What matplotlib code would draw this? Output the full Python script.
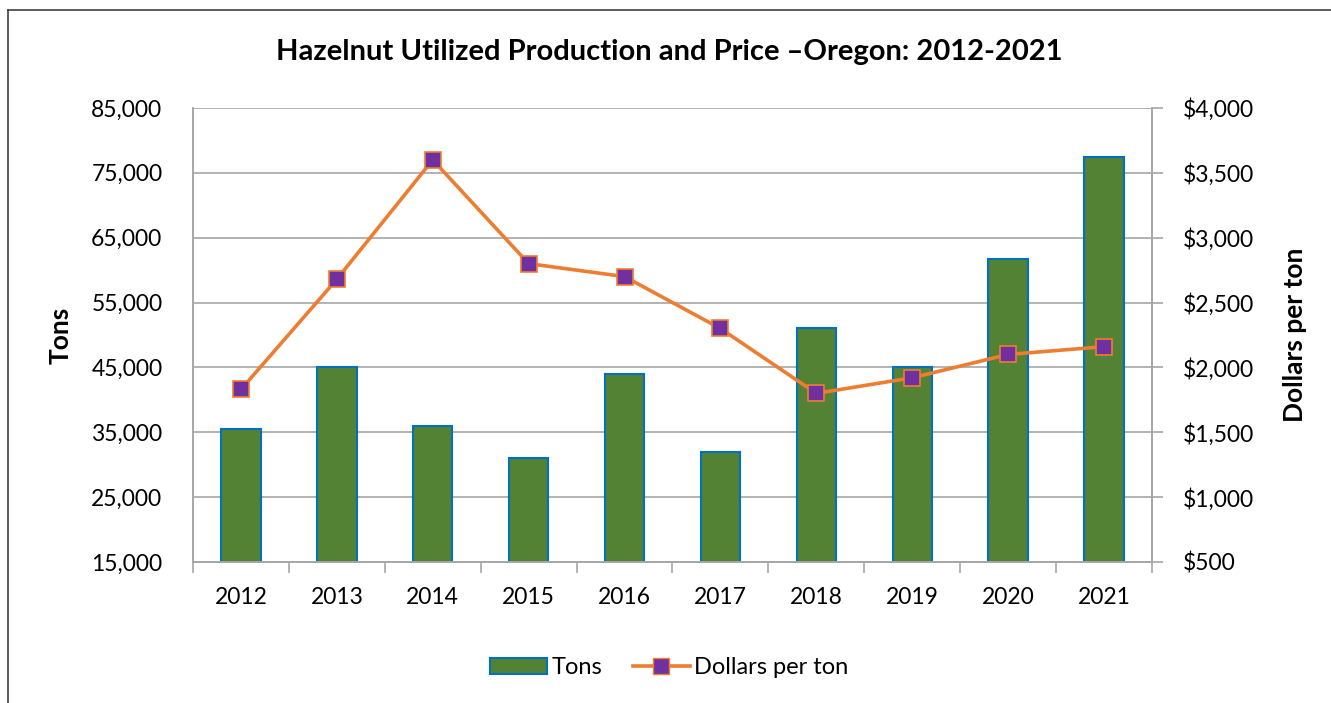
import numpy as np
import matplotlib.pyplot as plt
from matplotlib.lines import Line2D
from matplotlib.patches import Patch
from matplotlib.ticker import FuncFormatter

plt.rcParams['font.family'] = ['Lato', 'DejaVu Sans']

# Data
years = ['2012', '2013', '2014', '2015', '2016', '2017', '2018', '2019', '2020', '2021']
tons = [35500, 45000, 36000, 31000, 44000, 32000, 51000, 45000, 61700, 77400]
price = [1830, 2680, 3600, 2800, 2700, 2300, 1800, 1920, 2100, 2160]

left_ticks = [15000, 25000, 35000, 45000, 55000, 65000, 75000, 85000]
right_ticks = [500, 1000, 1500, 2000, 2500, 3000, 3500, 4000]

bar_green = '#548235'
bar_edge = '#0070C0'
line_orange = '#ED7D31'
marker_purple = '#7030A0'
grid_gray = '#A6A6A6'

fig = plt.figure(figsize=(13.31, 7.03), dpi=100)
ax = fig.add_axes([0.145, 0.2006, 0.7205, 0.6458])
ax2 = ax.twinx()

x = np.arange(len(years))
ax.bar(x, tons, width=0.41, color=bar_green, edgecolor=bar_edge, linewidth=1.5, zorder=2)
ax.set_ylim(15000, 85000)
ax.set_xlim(-0.5, len(years) - 0.5)
ax.set_yticks(left_ticks)
ax.yaxis.set_major_formatter(FuncFormatter(lambda v, p: f'{int(v):,}'))
ax.grid(axis='y', color=grid_gray, linewidth=1.2, zorder=0)
ax.set_axisbelow(True)

ax.set_xticks(x)
ax.set_xticklabels(years)
ax.set_xticks(np.arange(len(years) + 1) - 0.5, minor=True)
ax.tick_params(axis='x', which='major', length=0, pad=18, labelsize=16.5)
ax.tick_params(axis='x', which='minor', length=8, color=grid_gray, width=1.2)

ax2.plot(x, price, color=line_orange, linewidth=2.6, marker='s', markersize=11.5,
         markerfacecolor=marker_purple, markeredgecolor=line_orange, markeredgewidth=1.2,
         zorder=3)
ax2.set_ylim(500, 4000)
ax2.set_yticks(right_ticks)
ax2.yaxis.set_major_formatter(FuncFormatter(lambda v, p: f'${int(v):,}'))
ax2.tick_params(axis='y', length=8, color=grid_gray, width=1.2, pad=14, labelsize=16.5)

for a in (ax, ax2):
    a.spines['top'].set_visible(False)
    for side in ('left', 'right', 'bottom'):
        a.spines[side].set_color(grid_gray)
        a.spines[side].set_linewidth(1.2)

ax.tick_params(axis='y', which='major', length=0, pad=22, labelsize=16.5)

ax.set_ylabel('Tons', fontsize=19, fontweight='bold')
ax.yaxis.set_label_coords(-0.126, 0.5)
ax2.set_ylabel('Dollars per ton', fontsize=19, fontweight='bold')
ax2.yaxis.set_label_coords(1.137, 0.5)

fig.text(0.503, 0.926, 'Hazelnut Utilized Production and Price \u2013Oregon: 2012-2021',
         ha='center', va='center', fontsize=21, fontweight='bold')

handles = [
    Patch(facecolor=bar_green, edgecolor=bar_edge, linewidth=1.5, label='Tons'),
    Line2D([0], [0], color=line_orange, linewidth=2.6, marker='s', markersize=11.5,
           markerfacecolor=marker_purple, markeredgecolor=line_orange, label='Dollars per ton'),
]
fig.legend(handles=handles, loc='center', bbox_to_anchor=(0.503, 0.05), ncol=2,
           frameon=False, fontsize=17, handlelength=2.4, columnspacing=1.3, handletextpad=0.2)

# chart border (top and left edges visible in the crop)
fig.add_artist(Line2D([0.006, 0.006], [0, 0.986], transform=fig.transFigure, color='#404040', linewidth=1.2))
fig.add_artist(Line2D([0.006, 1], [0.986, 0.986], transform=fig.transFigure, color='#404040', linewidth=1.2))

fig.savefig('out.png', dpi=100)
